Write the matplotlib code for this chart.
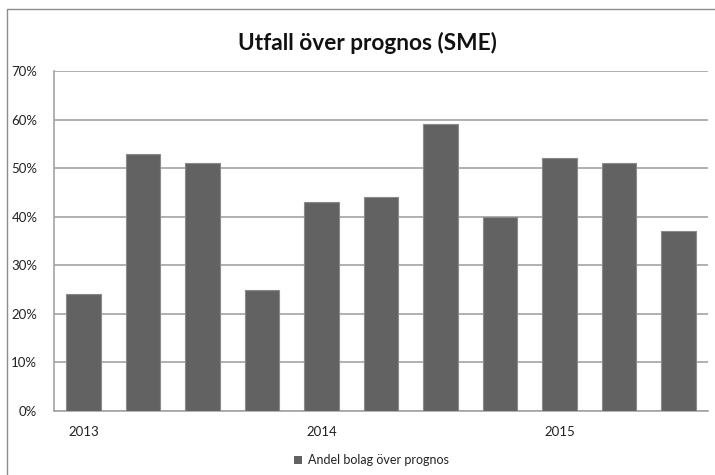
import matplotlib
matplotlib.use("Agg")
import matplotlib.pyplot as plt
from matplotlib.patches import Rectangle
from matplotlib.ticker import FuncFormatter, MultipleLocator

# Share of companies whose outcome beat the forecast, per reporting period
periods = ["2013", "", "", "", "2014", "", "", "", "2015", "", ""]
share = [24, 53, 51, 25, 43, 44, 59, 40, 52, 51, 37]
series_name = "Andel bolag över prognos"
title = "Utfall över prognos (SME)"

plt.rcParams["font.family"] = ["Lato", "DejaVu Sans"]

W, H = 715, 475
fig = plt.figure(figsize=(W / 100, H / 100), dpi=100)
ax = fig.add_axes([54 / W, 1 - 411 / H, (708 - 54) / W, (411 - 71) / H])

bar_color = "#626262"
edge_color = "#8a8a8a"
grid_color = "#a3a3a3"

x = list(range(len(share)))
ax.bar(x, share, width=0.58, color=bar_color, edgecolor=edge_color,
       linewidth=0.8, zorder=3, label=series_name)

ax.set_xlim(-0.5, len(share) - 0.5)
ax.set_ylim(0, 70)
ax.yaxis.set_major_locator(MultipleLocator(10))
ax.yaxis.set_major_formatter(FuncFormatter(lambda v, _: f"{v:.0f}%"))
ax.grid(axis="y", color=grid_color, linewidth=1.2, zorder=0)

ticks = [i for i, p in enumerate(periods) if p]
ax.set_xticks(ticks)
ax.set_xticklabels([periods[i] for i in ticks])

for side in ("top", "right"):
    ax.spines[side].set_visible(False)
for side in ("left", "bottom"):
    ax.spines[side].set_color(grid_color)
    ax.spines[side].set_linewidth(1.2)

ax.tick_params(axis="both", length=0, labelsize=9.5, colors="#222222")
ax.tick_params(axis="y", pad=12)
ax.tick_params(axis="x", pad=11)

fig.text(367 / W, 1 - 43 / H, title, ha="center", va="center",
         fontsize=16.3, fontweight="bold", color="#111111")

# legend below the plot
fig.patches.append(Rectangle((294 / W, 1 - 463.5 / H), 8 / W, 8 / H,
                             transform=fig.transFigure, facecolor=bar_color,
                             edgecolor="none"))
fig.text(307.5 / W, 1 - 459.5 / H, series_name, ha="left", va="center",
         fontsize=9, color="#222222")

# chart frame
fig.patches.append(Rectangle((7 / W, -0.1), 1.2, 1 - 9 / H + 0.1,
                             transform=fig.transFigure, facecolor="none",
                             edgecolor="#8c8c8c", linewidth=1.0))

fig.savefig("out.png", dpi=100)
